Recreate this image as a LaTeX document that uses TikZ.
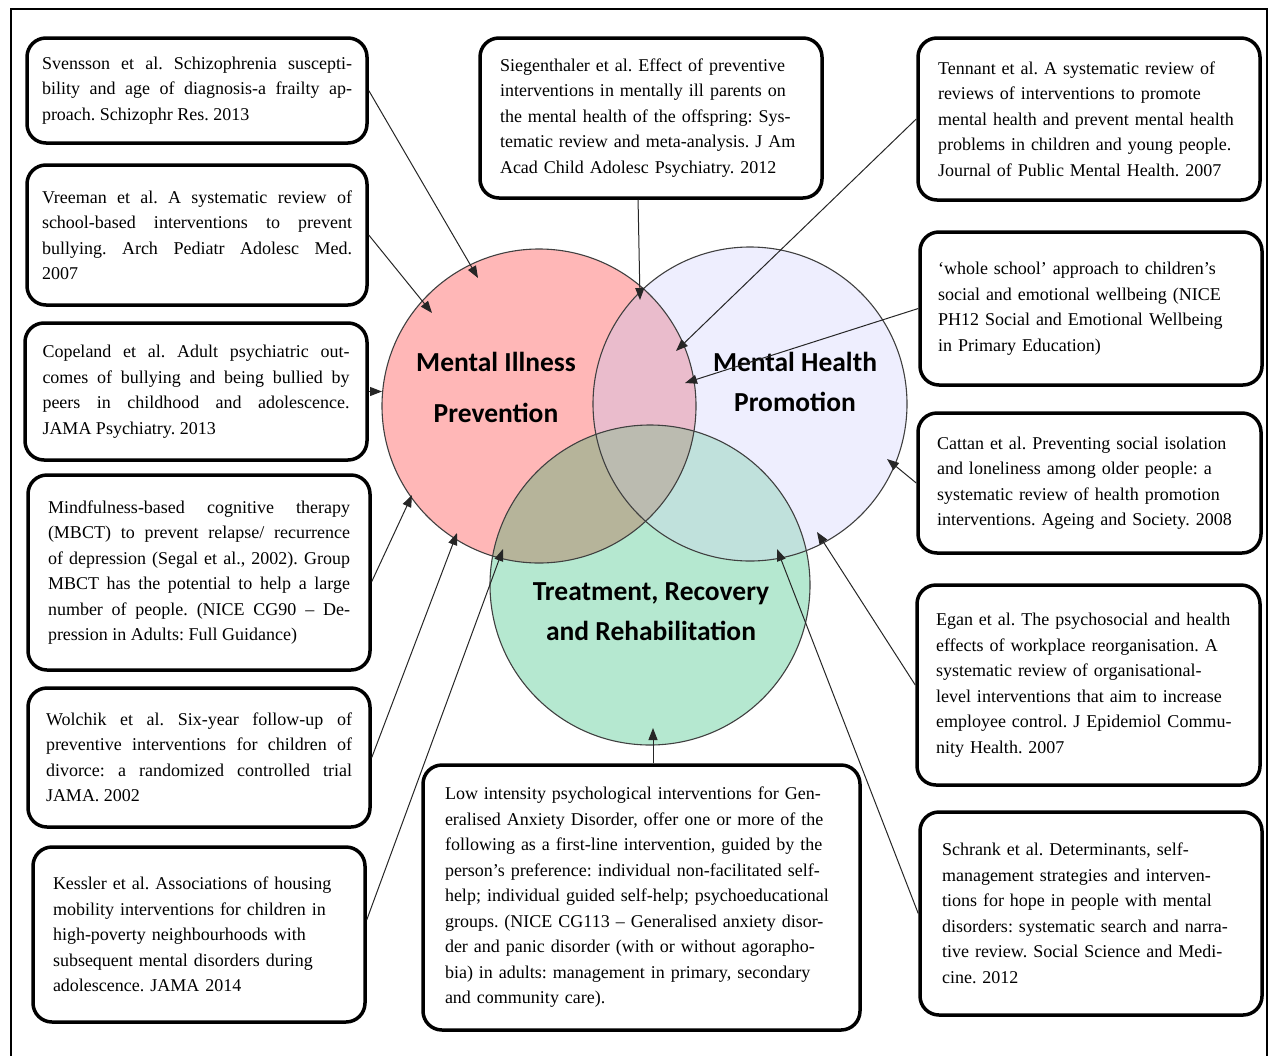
\documentclass[tikz,border=0pt]{standalone}
\usepackage{fontspec}
\setmainfont{Liberation Serif}
\newfontfamily\circlefont{Carlito}
\usetikzlibrary{arrows.meta}
\definecolor{illfill}{RGB}{255,183,183}
\definecolor{healthfill}{RGB}{238,238,254}
\definecolor{treatfill}{RGB}{181,232,208}
\definecolor{illhealth}{RGB}{234,188,204}
\definecolor{illtreat}{RGB}{182,180,154}
\definecolor{healthtreat}{RGB}{192,225,220}
\definecolor{allthree}{RGB}{187,187,176}
\tolerance=10000
\frenchspacing
\begin{document}
\begin{tikzpicture}[x=1pt,y=-1pt,
	ref/.style={draw,rounded corners=19pt,line width=3.5pt,fill=white,inner sep=0pt,
		font=\fontsize{18pt}{25.5pt}\selectfont},
	refj/.style={ref,align=justify},
	refl/.style={ref,align=left},
	pointer/.style={draw=black!85,line width=1pt,-{Triangle[length=12pt,width=9pt]}},
	area/.style={font=\circlefont\bfseries\fontsize{27.5pt}{40pt}\selectfont,align=center},
	ring/.style={draw=black!75,line width=1.1pt}]
\useasboundingbox (0,0) rectangle (1271,1055);
\draw[line width=2pt] (10.5,1062) -- (10.5,9) -- (1267,9) -- (1267,1062);
% the three circles and their overlaps
\coordinate (cIll) at (539,406);
\coordinate (cHealth) at (750,404);
\coordinate (cTreat) at (650,585);
\fill[illfill] (cIll) circle[radius=157pt];
\fill[healthfill] (cHealth) circle[radius=157pt];
\fill[treatfill] (cTreat) circle[radius=160pt];
\begin{scope}
	\clip (cHealth) circle[radius=157pt];
	\fill[healthtreat] (cTreat) circle[radius=160pt];
\end{scope}
\begin{scope}
	\clip (cIll) circle[radius=157pt];
	\fill[illhealth] (cHealth) circle[radius=157pt];
	\fill[illtreat] (cTreat) circle[radius=160pt];
	\clip (cHealth) circle[radius=157pt];
	\fill[allthree] (cTreat) circle[radius=160pt];
\end{scope}
\draw[ring] (cIll) circle[radius=157pt];
\draw[ring] (cHealth) circle[radius=157pt];
\draw[ring] (cTreat) circle[radius=160pt];
\node[area] (ill) at (496,387) {Mental Illness\\[11pt]Prevention};
\node[area] (health) at (795,382) {Mental Health\\Promotion};
\node[area] (treat) at (651,612) {Treatment, Recovery\\and Rehabilitation};
% left column
\node[refj,minimum width=340pt,minimum height=105pt,text width=310pt] (svensson) at (197,90.5)
	{Svensson et al. Schizophrenia suscepti-\linebreak bility and age of diagnosis-a frailty ap-\linebreak proach. Schizophr Res. 2013};
\node[refj,minimum width=340pt,minimum height=140pt,text width=310pt] (vreeman) at (197,235)
	{Vreeman et al. A systematic review of\linebreak school-based interventions to prevent\linebreak bullying. Arch Pediatr Adolesc Med.\linebreak 2007};
\node[refj,minimum width=342pt,minimum height=137pt,text width=307pt] (copeland) at (196,391.5)
	{Copeland et al. Adult psychiatric out-\linebreak comes of bullying and being bullied by\linebreak peers in childhood and adolescence.\linebreak JAMA Psychiatry. 2013};
\node[refj,minimum width=342pt,minimum height=195pt,text width=302pt] (mindful) at (199,572.5)
	{Mindfulness-based cognitive therapy\linebreak (MBCT) to prevent relapse/ recurrence\linebreak of depression (Segal et al., 2002). Group\linebreak MBCT has the potential to help a large\linebreak number of people. (NICE CG90 -- De-\linebreak pression in Adults: Full Guidance)};
\node[refj,minimum width=342pt,minimum height=139pt,text width=306pt] (wolchik) at (199,757.5)
	{Wolchik et al. Six-year follow-up of\linebreak preventive interventions for children of\linebreak divorce: a randomized controlled trial\linebreak JAMA. 2002};
\node[refl,minimum width=332pt,minimum height=175pt,text width=292pt] (kessler) at (199,934.5)
	{Kessler et al. Associations of housing\\ mobility interventions for children in\\ high-poverty neighbourhoods with\\ subsequent mental disorders during\\ adolescence. JAMA 2014};
% top and bottom middle
\node[refl,minimum width=342pt,minimum height=160pt,text width=302pt] (siegen) at (651,118)
	{Siegenthaler et al. Effect of preventive\\ interventions in mentally ill parents on\\ the mental health of the offspring: Sys-\\ tematic review and meta-analysis. J Am\\ Acad Child Adolesc Psychiatry. 2012};
\node[refl,minimum width=437pt,minimum height=265pt,text width=393pt] (low) at (641.5,897.5)
	{Low intensity psychological interventions for Gen-\\ eralised Anxiety Disorder, offer one or more of the\\ following as a first-line intervention, guided by the\\ person’s preference: individual non-facilitated self-\\ help; individual guided self-help; psychoeducational\\ groups. (NICE CG113 -- Generalised anxiety disor-\\ der and panic disorder (with or without agorapho-\\ bia) in adults: management in primary, secondary\\ and community care).};
% right column
\node[refl,minimum width=342pt,minimum height=162pt,text width=302pt] (tennant) at (1089,119)
	{Tennant et al. A systematic review of\\ reviews of interventions to promote\\ mental health and prevent mental health\\ problems in children and young people.\\ Journal of Public Mental Health. 2007};
\node[refl,minimum width=342pt,minimum height=153pt,text width=306pt] (whole) at (1091,308.5)
	{‘whole school’ approach to children’s\\ social and emotional wellbeing (NICE\\ PH12 Social and Emotional Wellbeing\\ in Primary Education)};
\node[refl,minimum width=343pt,minimum height=140pt,text width=305pt] (cattan) at (1089.5,483)
	{Cattan et al. Preventing social isolation\\ and loneliness among older people: a\\ systematic review of health promotion\\ interventions. Ageing and Society. 2008};
\node[refl,minimum width=343pt,minimum height=200pt,text width=305pt] (egan) at (1088.5,685)
	{Egan et al. The psychosocial and health\\ effects of workplace reorganisation. A\\ systematic review of organisational-\\ level interventions that aim to increase\\ employee control. J Epidemiol Commu-\\ nity Health. 2007};
\node[refl,minimum width=342pt,minimum height=203pt,text width=298pt] (schrank) at (1091,913.5)
	{Schrank et al. Determinants, self-\\ management strategies and interven-\\ tions for hope in people with mental\\ disorders: systematic search and narra-\\ tive review. Social Science and Medi-\\ cine. 2012};
% arrow targets
\coordinate (tSvensson) at (478,278);
\coordinate (tVreeman) at (432,313);
\coordinate (tCopeland) at (382,391.5);
\coordinate (tMindful) at (412,495);
\coordinate (tWolchik) at (457,533);
\coordinate (tKessler) at (503,549);
\coordinate (tSiegen) at (640,300);
\coordinate (tTennant) at (676,351);
\coordinate (tWhole) at (685,383);
\coordinate (tCattan) at (887,459);
\coordinate (tEgan) at (817,532);
\coordinate (tSchrank) at (777,549);
\coordinate (tLow) at (653,728);
\draw[pointer] (svensson.east) -- (tSvensson);
\draw[pointer] (vreeman.east) -- (tVreeman);
\draw[pointer] (copeland.east) -- (tCopeland);
\draw[pointer] (mindful.-3) -- (tMindful);
\draw[pointer] (wolchik.east) -- (tWolchik);
\draw[pointer] (kessler.5) -- (tKessler);
\draw[pointer] (siegen.-99) -- (tSiegen);
\draw[pointer] (tennant.west) -- (tTennant);
\draw[pointer] (whole.west) -- (tWhole);
\draw[pointer] (cattan.west) -- (tCattan);
\draw[pointer] (egan.west) -- (tEgan);
\draw[pointer] (schrank.west) -- (tSchrank);
\draw[pointer] (low.north -| tLow) -- (tLow);
\end{tikzpicture}
\end{document}
